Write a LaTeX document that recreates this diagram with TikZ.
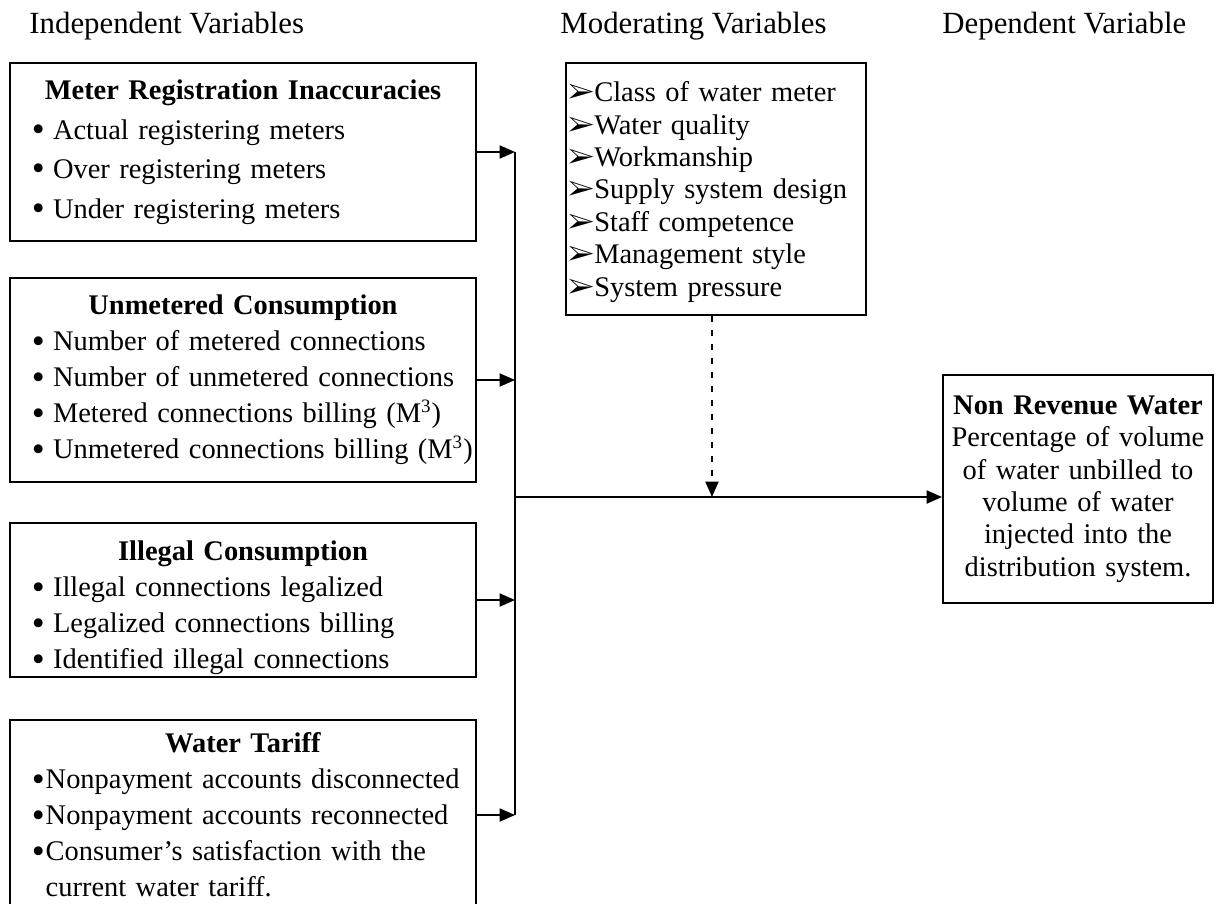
\documentclass[tikz,border=0pt]{standalone}
\usepackage{fontspec}
\setmainfont{Liberation Serif}
\usepackage{pifont}
\usepackage{graphicx}
\usetikzlibrary{positioning, arrows.meta}

\newcommand{\bitem}[2][8.9pt]{\mbox{\makebox[#1][l]{\raisebox{-1pt}{\scalebox{1.3}{\textbullet}}}#2}}

\begin{document}
\begin{tikzpicture}[x=0.422pt, y=-0.422pt]
        % one unit is one pixel of the sketch, y grows downwards
        \tikzstyle{heading}=[anchor=base west, inner sep=0, font=\fontsize{13}{15}\selectfont]
        \tikzstyle{varbox}=[draw, line width=0.8pt, inner xsep=9.3pt, inner ysep=0,
            minimum width=196.7pt, text width=178.1pt, align=left,
            font=\fontsize{12}{15.2}\selectfont]
        \tikzstyle{link}=[line width=0.8pt, -{Triangle[length=6.5pt, width=5.5pt]}]

        \useasboundingbox (0,0) rectangle (1223,903);

        \node[heading] (indep) at (29,34) {Independent Variables};
        \node[heading] (moder) at (560,34) {Moderating Variables};
        \node[heading] (depen) at (942,34) {Dependent Variable};

        \node[varbox, minimum height=75.1pt, font=\fontsize{12}{16.7}\selectfont] (meter) at (243,152)
            {{\centering\textbf{Meter Registration Inaccuracies}\par}
             \bitem{Actual registering meters}\\
             \bitem{Over registering meters}\\
             \bitem{Under registering meters}};
        \node[varbox, minimum height=86.1pt] (unmet) at (243,380)
            {{\centering\textbf{Unmetered Consumption}\par}
             \bitem{Number of metered connections}\\
             \bitem{Number of unmetered connections}\\
             \bitem{Metered connections billing (M\textsuperscript{3})}\\
             \bitem{Unmetered connections billing (M\textsuperscript{3})}};
        \node[varbox, minimum height=65pt] (illeg) at (243,600)
            {{\centering\rule{0pt}{15pt}\textbf{Illegal Consumption}\par}
             \bitem{Illegal connections legalized}\\
             \bitem{Legalized connections billing}\\
             \bitem{Identified illegal connections}};
        \node[varbox, minimum height=80.2pt] (tariff) at (243,815)
            {{\centering\textbf{Water Tariff}\par}
             \bitem[5.8pt]{Nonpayment accounts disconnected}\\
             \bitem[5.8pt]{Nonpayment accounts reconnected}\\
             \bitem[5.8pt]{Consumer’s satisfaction with the}\\
             \hspace*{5.8pt}current water tariff.};

        \node[draw, line width=0.8pt, inner xsep=0.84pt, inner ysep=0, minimum width=126.6pt,
            minimum height=106.3pt, text width=124.9pt, align=left,
            font=\fontsize{12}{13.7}\selectfont] (moderate) at (716,189)
            {\rule{0pt}{11pt}\ding{226}Class of water meter\\
             \ding{226}Water quality\\
             \ding{226}Workmanship\\
             \ding{226}Supply system design\\
             \ding{226}Staff competence\\
             \ding{226}Management style\\
             \ding{226}System pressure};

        \node[draw, line width=0.8pt, inner xsep=1.7pt, inner ysep=0, minimum width=113.9pt,
            minimum height=96.2pt, text width=110.6pt, align=center,
            font=\fontsize{12}{13.7}\selectfont] (nrw) at (1078,489)
            {\textbf{Non Revenue Water}\\
             Percentage of volume\\
             of water unbilled to\\
             volume of water\\
             injected into the\\
             distribution system.};

        \coordinate (bus) at (515,497);
        \draw[line width=0.8pt] (meter.east -| bus) -- (tariff.east -| bus);
        \draw[link] (meter.east) -- (meter.east -| bus);
        \draw[link] (unmet.east) -- (unmet.east -| bus);
        \draw[link] (illeg.east) -- (illeg.east -| bus);
        \draw[link] (tariff.east) -- (tariff.east -| bus);
        \draw[link] (bus) -- (bus -| nrw.west);
        \draw[link, dash pattern=on 2.5pt off 3.4pt] ([xshift=-1.7pt]moderate.south) -- ([xshift=-1.7pt]moderate.south |- bus);
      \end{tikzpicture}
\end{document}
